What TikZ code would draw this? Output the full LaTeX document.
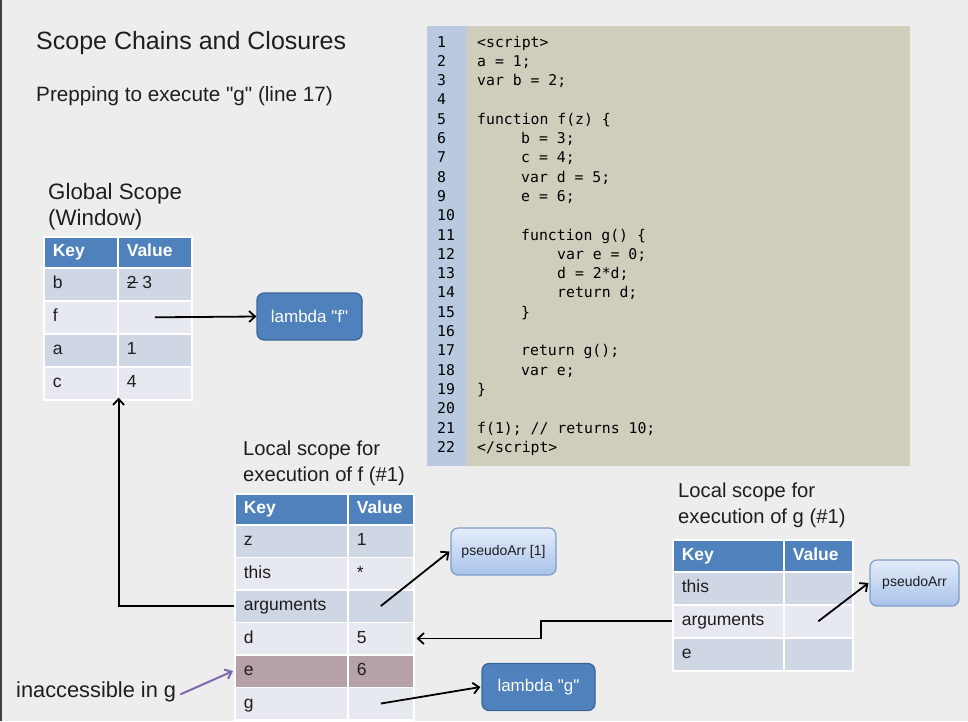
\documentclass[tikz,border=0pt]{standalone}
\usepackage{fontspec}
\setmainfont{Liberation Sans}[Ligatures=TeXOff]
\newfontfamily\codefont{DejaVu Sans Mono}
\usetikzlibrary{arrows.meta}
\definecolor{bg}{HTML}{EDEDED}
\definecolor{hdrblue}{HTML}{4F81BD}
\definecolor{rowdark}{HTML}{CFD6E4}
\definecolor{rowlight}{HTML}{E6E9F0}
\definecolor{rowmauve}{HTML}{B6A1A8}
\definecolor{boxedge}{HTML}{3A6496}
\definecolor{patop}{HTML}{E4ECF8}
\definecolor{pabot}{HTML}{A8C3EA}
\definecolor{paedge}{HTML}{7C9DCC}
\definecolor{gutter}{HTML}{B9C9E0}
\definecolor{codebg}{HTML}{D1CDBD}
\definecolor{purplearrow}{HTML}{7F67B0}
\definecolor{inktext}{HTML}{1E1E1E}
\newcommand{\tabfont}{\fontsize{17.5}{20}\selectfont}
\newcommand{\dq}{{\char34}}
\begin{document}
\begin{tikzpicture}[x=1pt,y=-1pt,
  cell/.style={draw=white, line width=1.6pt, anchor=north west, inner xsep=9pt, inner ysep=0pt,
    align=left, text height=12.5pt, text depth=3.5pt, font=\tabfont, text=inktext},
  hdr/.style={fill=hdrblue, text=white, font=\tabfont\bfseries},
  gkey/.style={cell, text width=56pt, minimum height=33pt},
  gval/.style={cell, text width=56pt, minimum height=33pt},
  fkey/.style={cell, text width=95pt, minimum height=32.5pt},
  fval/.style={cell, text width=48pt, minimum height=32.5pt},
  hkey/.style={cell, text width=93pt, minimum height=33pt},
  hval/.style={cell, text width=51pt, minimum height=33pt},
  lambdabox/.style={draw=boxedge, line width=1.2pt, fill=hdrblue, rounded corners=7pt,
    text=white, font=\fontsize{17}{20}\selectfont, minimum height=47pt},
  pabox/.style={draw=paedge, line width=1.2pt, top color=patop, bottom color=pabot, rounded corners=7pt,
    text=inktext, font=\fontsize{14}{17}\selectfont, minimum height=47pt},
  arr/.style={-{Straight Barb[length=6pt,width=11pt]}, line width=1.8pt, black},
  lbl/.style={anchor=base west, inner sep=0pt, text=inktext},
  lnum/.style={anchor=base west, inner sep=0pt, font=\codefont\fontsize{14.8}{17}\selectfont, text=black},
  codeline/.style={anchor=base west, inner sep=0pt, font=\codefont\fontsize{14.8}{17}\selectfont, text=black}
]
\fill[bg] (0,0) rectangle (968,721);
\useasboundingbox (0,0) rectangle (968,721);
\draw[line width=2pt, black!75] (1,0) -- (1,721);

% titles
\node[lbl, font=\fontsize{25}{30}\selectfont] (title) at (36,49) {Scope Chains and Closures};
\node[lbl, font=\fontsize{20.7}{24}\selectfont] (subtitle) at (36,101) {Prepping to execute \dq g\dq{} (line 17)};

% code panel
\node[fill=codebg, minimum width=483pt, minimum height=440pt, anchor=north west, inner sep=0pt] (codebox) at (427,26) {};
\node[fill=gutter, minimum width=40pt, minimum height=440pt, anchor=north west, inner sep=0pt] (gutterbox) at (427,26) {};
\foreach \i in {1,...,22} {
  \node[lnum] (n\i) at (437,{47+19.3*(\i-1)}) {\i};
}
\node[codeline] (c1) at (477,47) {<script>};
\node[codeline] (c2) at (477,66.3) {a = 1;};
\node[codeline] (c3) at (477,85.6) {var b = 2;};
\node[codeline] (c5) at (477,124.2) {function f(z) \{};
\node[codeline] (c6) at (521,143.5) {b = 3;};
\node[codeline] (c7) at (521,162.8) {c = 4;};
\node[codeline] (c8) at (521,182.1) {var d = 5;};
\node[codeline] (c9) at (521,201.4) {e = 6;};
\node[codeline] (c11) at (521,240) {function g() \{};
\node[codeline] (c12) at (557,259.3) {var e = 0;};
\node[codeline] (c13) at (557,278.6) {d = 2*d;};
\node[codeline] (c14) at (557,297.9) {return d;};
\node[codeline] (c15) at (521,317.2) {\}};
\node[codeline] (c17) at (521,355.8) {return g();};
\node[codeline] (c18) at (521,375.1) {var e;};
\node[codeline] (c19) at (477,394.4) {\}};
\node[codeline] (c21) at (477,433) {f(1); // returns 10;};
\node[codeline] (c22) at (477,452.3) {</script>};

% global scope
\node[lbl, font=\fontsize{22.3}{26}\selectfont] (gt1) at (48,199) {Global Scope};
\node[lbl, font=\fontsize{22.3}{26}\selectfont] (gt2) at (48,225) {(Window)};
\node[gkey, hdr, minimum height=31pt] (ghk) at (43,236) {Key};
\node[gval, hdr, minimum height=31pt] (ghv) at (117,236) {Value};
\node[gkey, fill=rowdark] (gk1) at (43,267) {b};
\node[gval, fill=rowdark] (gv1) at (117,267) {\rlap{\rule[0.33em]{0.62em}{0.9pt}}2 3};
\node[gkey, fill=rowlight] (gk2) at (43,300) {f};
\node[gval, fill=rowlight] (gv2) at (117,300) {};
\node[gkey, fill=rowdark] (gk3) at (43,333) {a};
\node[gval, fill=rowdark] (gv3) at (117,333) {1};
\node[gkey, fill=rowlight] (gk4) at (43,366) {c};
\node[gval, fill=rowlight] (gv4) at (117,366) {4};
\node[lambdabox, minimum width=105pt] (lf) at (309.5,316.5) {lambda \dq f\dq};

% local scope f
\node[lbl, font=\fontsize{20.2}{24}\selectfont] (ft1) at (243,455) {Local scope for};
\node[lbl, font=\fontsize{20.2}{24}\selectfont] (ft2) at (243,481) {execution of f (\#1)};
\node[fkey, hdr, minimum height=31pt] (fhk) at (234,493) {Key};
\node[fval, hdr, minimum height=31pt] (fhv) at (347,493) {Value};
\node[fkey, fill=rowdark] (fk1) at (234,524) {z};
\node[fval, fill=rowdark] (fv1) at (347,524) {1};
\node[fkey, fill=rowlight] (fk2) at (234,556.5) {this};
\node[fval, fill=rowlight] (fv2) at (347,556.5) {*};
\node[fkey, fill=rowdark] (fk3) at (234,589) {arguments};
\node[fval, fill=rowdark] (fv3) at (347,589) {};
\node[fkey, fill=rowlight] (fk4) at (234,621.5) {d};
\node[fval, fill=rowlight] (fv4) at (347,621.5) {5};
\node[fkey, fill=rowmauve] (fk5) at (234,654) {e};
\node[fval, fill=rowmauve] (fv5) at (347,654) {6};
\node[fkey, fill=rowlight] (fk6) at (234,686.5) {g};
\node[fval, fill=rowlight] (fv6) at (347,686.5) {};
\node[pabox, minimum width=105pt] (pa1) at (503.5,551.5) {pseudoArr [1]};
\node[lambdabox, minimum width=113pt] (lg) at (538.5,687) {lambda \dq g\dq};

% local scope g
\node[lbl, font=\fontsize{20.2}{24}\selectfont] (ht1) at (678,497) {Local scope for};
\node[lbl, font=\fontsize{20.2}{24}\selectfont] (ht2) at (678,523) {execution of g (\#1)};
\node[hkey, hdr, minimum height=32pt] (hhk) at (672,539) {Key};
\node[hval, hdr, minimum height=32pt] (hhv) at (783,539) {Value};
\node[hkey, fill=rowdark] (hk1) at (672,571) {this};
\node[hval, fill=rowdark] (hv1) at (783,571) {};
\node[hkey, fill=rowlight] (hk2) at (672,604) {arguments};
\node[hval, fill=rowlight] (hv2) at (783,604) {};
\node[hkey, fill=rowdark] (hk3) at (672,637) {e};
\node[hval, fill=rowdark] (hv3) at (783,637) {};
\node[pabox, minimum width=89pt, minimum height=46pt] (pa) at (914.5,583) {pseudoArr};

% inaccessible note
\node[lbl, font=\fontsize{21.8}{25}\selectfont] (inacc) at (16,697) {inaccessible in g};

% connectors
\draw[arr] (gv2.center) -- (lf.west);
\draw[arr] (fv3.center) -- ([xshift=-1pt]pa1.west);
\draw[arr] (fv6.center) -- ([xshift=-1pt]lg.west);
\draw[arr] (hv2.center) -- ([xshift=-1pt]pa.west);
\draw[arr] (fk3.west) -| ([yshift=3pt]gk4.south east);
\draw[arr] (hk2.west) -- ++(-131,0) |- ([xshift=2pt]fv4.east);
\draw[-{Straight Barb[length=6pt,width=10pt]}, line width=2pt, purplearrow] ([xshift=4pt,yshift=-3pt]inacc.east) -- ([xshift=-1pt]fk5.west);
\end{tikzpicture}
\end{document}
